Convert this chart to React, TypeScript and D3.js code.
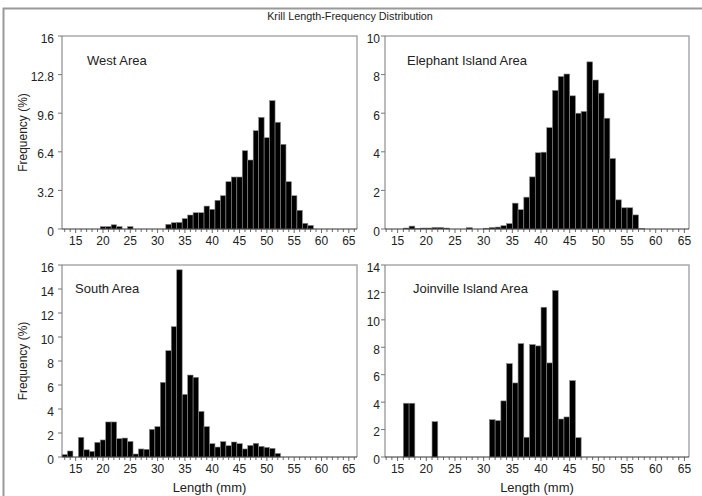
import React from "react";
import * as d3 from "d3";

const W = 702;
const H = 496;

// ---- data (length in mm -> frequency %) ----
const westLengths = [20, 21, 22, 23, 25, 32, 33, 34, 35, 36, 37, 38, 39, 40, 41, 42, 43, 44, 45, 46, 47, 48, 49, 50, 51, 52, 53, 54, 55, 56, 57, 58];
const westFreq = [0.2, 0.2, 0.35, 0.2, 0.2, 0.39, 0.52, 0.55, 0.86, 1.16, 1.35, 1.35, 1.9, 1.63, 2.38, 2.76, 3.92, 4.31, 4.31, 6.49, 5.72, 8.15, 9.26, 7.57, 10.64, 8.85, 7.02, 3.92, 2.76, 1.55, 0.47, 0.3];

const elephantLengths = [16, 17, 18, 19, 20, 21, 22, 23, 27, 30, 31, 32, 33, 34, 35, 36, 37, 38, 39, 40, 41, 42, 43, 44, 45, 46, 47, 48, 49, 50, 51, 52, 53, 54, 55, 56, 57];
const elephantFreq = [0.05, 0.15, 0.03, 0.05, 0.05, 0.08, 0.08, 0.05, 0.07, 0.04, 0.08, 0.1, 0.17, 0.28, 1.34, 1.0, 1.65, 2.7, 3.95, 3.98, 5.25, 7.18, 7.9, 8.03, 6.9, 6.0, 6.09, 8.66, 7.72, 7.04, 5.74, 3.65, 1.51, 1.1, 1.1, 0.73, 0.03];

const southLengths = [13, 14, 16, 17, 18, 19, 20, 21, 22, 23, 24, 25, 26, 27, 28, 29, 30, 31, 32, 33, 34, 35, 36, 37, 38, 39, 40, 41, 42, 43, 44, 45, 46, 47, 48, 49, 50, 51, 52];
const southFreq = [0.2, 0.5, 1.64, 0.6, 0.47, 1.22, 1.42, 2.92, 2.92, 1.53, 1.58, 1.3, 0.25, 0.67, 0.64, 2.3, 2.53, 6.22, 8.86, 10.86, 15.6, 5.22, 6.83, 6.64, 3.8, 2.53, 1.11, 0.83, 1.28, 0.94, 1.25, 1.11, 0.67, 0.97, 1.14, 0.89, 0.8, 0.72, 0.3];

const joinvilleLengths = [16, 17, 21, 31, 32, 33, 34, 35, 36, 37, 38, 39, 40, 41, 42, 43, 44, 45, 46];
const joinvilleFreq = [3.92, 3.92, 2.58, 2.72, 2.65, 4.09, 6.81, 5.4, 8.27, 1.44, 8.2, 8.1, 10.92, 6.86, 12.14, 2.77, 2.92, 5.57, 1.41];

const westYTicks = [0, 3.2, 6.4, 9.6, 12.8, 16];
const elephantYTicks = [0, 2, 4, 6, 8, 10];
const southYTicks = [0, 2, 4, 6, 8, 10, 12, 14, 16];
const joinvilleYTicks = [0, 2, 4, 6, 8, 10, 12, 14];
const xTickLabels = [15, 20, 25, 30, 35, 40, 45, 50, 55, 60, 65];

const FONT = "'Liberation Sans', Arial, Helvetica, sans-serif";

type PanelCfg = {
  title: string;
  lengths: number[];
  freq: number[];
  yTicks: number[];
  x0: number;
  x1: number;
  y0: number;
  y1: number;
  xDomain: [number, number];
  barOffset: number;
  labelGap: number;
  titleX: number;
  titleY: number;
  yLabel: boolean;
  xLabel: boolean;
};

const panels: PanelCfg[] = [
  { title: "West Area", lengths: westLengths, freq: westFreq, yTicks: westYTicks, x0: 62, x1: 357, y0: 36, y1: 229, xDomain: [12.5, 66.5], barOffset: -0.5, labelGap: 8, titleX: 87, titleY: 65, yLabel: true, xLabel: false },
  { title: "Elephant Island Area", lengths: elephantLengths, freq: elephantFreq, yTicks: elephantYTicks, x0: 385, x1: 689, y0: 36, y1: 229, xDomain: [12.8, 65.8], barOffset: 0, labelGap: 5, titleX: 407, titleY: 65, yLabel: false, xLabel: false },
  { title: "South Area", lengths: southLengths, freq: southFreq, yTicks: southYTicks, x0: 62, x1: 357, y0: 265, y1: 457, xDomain: [12.5, 66.5], barOffset: -0.5, labelGap: 8, titleX: 75, titleY: 293, yLabel: true, xLabel: true },
  { title: "Joinville Island Area", lengths: joinvilleLengths, freq: joinvilleFreq, yTicks: joinvilleYTicks, x0: 385, x1: 689, y0: 265, y1: 457, xDomain: [12.8, 65.8], barOffset: 0, labelGap: 5, titleX: 413, titleY: 293, yLabel: false, xLabel: true },
];

function Panel({ p }: { p: PanelCfg }) {
  const x = d3.scaleLinear().domain(p.xDomain).range([p.x0, p.x1]);
  const yMax = p.yTicks[p.yTicks.length - 1];
  const y = d3.scaleLinear().domain([0, yMax]).range([p.y1, p.y0]);
  const minor = d3.range(Math.ceil(p.xDomain[0]), Math.floor(p.xDomain[1]) + 1);
  return (
    <g>
      {p.lengths.map((L, i) => {
        const a = x(L + p.barOffset);
        const b = x(L + p.barOffset + 1);
        const xa = Math.max(a, p.x0);
        const top = y(p.freq[i]);
        return (
          <rect key={i} x={xa} y={top} width={b - xa} height={p.y1 - top} fill="#000" stroke="#8a8a8a" strokeWidth={0.6} />
        );
      })}
      <path d={`M${p.x0},${p.y0}H${p.x1}V${p.y1}`} fill="none" stroke="#a9a9a9" strokeWidth={1.5} />
      <line x1={p.x0} x2={p.x0} y1={p.y0} y2={p.y1} stroke="#777" strokeWidth={1} />
      {p.yTicks.map((t) => (
        <g key={t}>
          <line x1={p.x0 - 4} x2={p.x0} y1={y(t)} y2={y(t)} stroke="#777" strokeWidth={1} />
          <text x={p.x0 - p.labelGap} y={y(t) + 6.5} textAnchor="end" fontSize={12} fontFamily={FONT} fill="#222">
            {t}
          </text>
        </g>
      ))}
      <line x1={p.x0} x2={p.x1} y1={p.y1} y2={p.y1} stroke="#333" strokeWidth={1} />
      {minor.map((t) => (
        <line key={t} x1={x(t)} x2={x(t)} y1={p.y1} y2={p.y1 + (t % 5 === 0 ? 4 : 3)} stroke="#444" strokeWidth={0.8} />
      ))}
      {xTickLabels.map((t) => (
        <text key={t} x={x(t)} y={p.y1 + 16} textAnchor="middle" fontSize={12} fontFamily={FONT} fill="#222">
          {t}
        </text>
      ))}
      <text x={p.titleX} y={p.titleY} fontSize={13} fontFamily={FONT} fill="#222">
        {p.title}
      </text>
      {p.yLabel && (
        <text transform={`translate(27,${(p.y0 + p.y1) / 2}) rotate(-90)`} textAnchor="middle" fontSize={12} fontFamily={FONT} fill="#222">
          Frequency (%)
        </text>
      )}
      {p.xLabel && (
        <text x={(p.x0 + p.x1) / 2} y={p.y1 + 35} textAnchor="middle" fontSize={13} fontFamily={FONT} fill="#222">
          Length (mm)
        </text>
      )}
    </g>
  );
}

export default function App() {
  return (
    <svg width={W} height={H} style={{ position: "absolute", left: 0, top: 0, background: "#fff" }}>
      <rect x={0} y={0} width={W} height={H} fill="#fff" />
      <rect x={3.5} y={8.5} width={W + 10} height={H + 10} fill="none" stroke="#999" strokeWidth={2} />
      <text x={350} y={20} textAnchor="middle" fontSize={10.8} fontFamily={FONT} fill="#222">
        Krill Length-Frequency Distribution
      </text>
      {panels.map((p) => (
        <Panel key={p.title} p={p} />
      ))}
    </svg>
  );
}
